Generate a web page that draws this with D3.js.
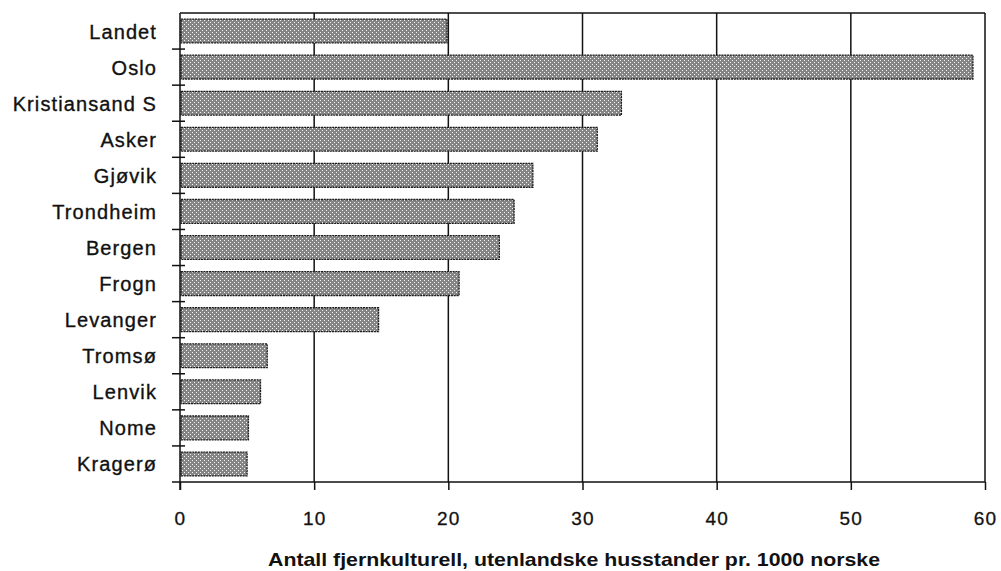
<!DOCTYPE html>
<html>
<head>
<meta charset="utf-8">
<script src="https://cdn.jsdelivr.net/npm/d3@7"></script>
<style>
  html, body { margin: 0; padding: 0; background: #ffffff; }
  svg { display: block; }
  text { font-family: "Liberation Sans", Arial, sans-serif; fill: #111; }
</style>
</head>
<body>
<svg id="chart" width="1001" height="571"></svg>
<script>
const categories = ["Landet", "Oslo", "Kristiansand S", "Asker", "Gjøvik", "Trondheim", "Bergen", "Frogn", "Levanger", "Tromsø", "Lenvik", "Nome", "Kragerø"];
const values = [19.9, 59.1, 32.9, 31.1, 26.3, 24.9, 23.8, 20.8, 14.8, 6.5, 6.0, 5.1, 5.0];
const xTicks = [0, 10, 20, 30, 40, 50, 60];
const xTitle = "Antall fjernkulturell, utenlandske husstander pr. 1000 norske";

const svg = d3.select("#chart");
const mLeft = 180, mRight = 985, mTop = 13, mBottom = 482;

const x = d3.scaleLinear().domain([0, 60]).range([mLeft, mRight]);
const y = d3.scaleBand().domain(categories).range([mTop, mBottom]).paddingInner(0.34).paddingOuter(0.17);

// pattern for bars
const defs = svg.append("defs");
const pat = defs.append("pattern").attr("id", "dots").attr("patternUnits", "userSpaceOnUse")
  .attr("width", 4).attr("height", 4);
pat.append("rect").attr("width", 4).attr("height", 4).attr("fill", "#858585");
pat.append("rect").attr("x", 0).attr("y", 0).attr("width", 1).attr("height", 1).attr("fill", "#f4f4f4");
pat.append("rect").attr("x", 2).attr("y", 2).attr("width", 1).attr("height", 1).attr("fill", "#f4f4f4");

// gridlines
svg.append("g").selectAll("line").data(xTicks.filter(d => d > 0)).join("line")
  .attr("x1", d => x(d)).attr("x2", d => x(d))
  .attr("y1", mTop).attr("y2", mBottom)
  .attr("stroke", "#111").attr("stroke-width", 1.5);

// top border
svg.append("line").attr("x1", x(0)).attr("x2", x(60)).attr("y1", mTop).attr("y2", mTop)
  .attr("stroke", "#111").attr("stroke-width", 1.5);

// bars
svg.append("g").selectAll("rect").data(categories).join("rect")
  .attr("x", x(0) + 1)
  .attr("y", d => y(d))
  .attr("width", (d, i) => x(values[i]) - x(0) - 1)
  .attr("height", y.bandwidth())
  .attr("fill", "url(#dots)")
  .attr("stroke", "#1a1a1a").attr("stroke-width", 1.3).attr("stroke-dasharray", "2,0.8");

// left axis line
svg.append("line").attr("x1", x(0)).attr("x2", x(0)).attr("y1", mTop).attr("y2", mBottom + 8)
  .attr("stroke", "#111").attr("stroke-width", 1.5);

// left ticks between bands
const step = y.step();
const boundaries = categories.slice(1).map(d => y(d) - step * y.paddingInner() / 2);
svg.append("g").selectAll("line").data(boundaries).join("line")
  .attr("x1", x(0) - 8).attr("x2", x(0) + 5)
  .attr("y1", d => d).attr("y2", d => d)
  .attr("stroke", "#111").attr("stroke-width", 1.5);

// category labels
svg.append("g").selectAll("text").data(categories).join("text")
  .attr("x", 157)
  .attr("y", d => y(d) + y.bandwidth() / 2 + 7.5)
  .attr("text-anchor", "end")
  .attr("font-size", 20)
  .attr("letter-spacing", 1.1)
  .attr("stroke", "#111").attr("stroke-width", 0.35)
  .text(d => d);

// bottom axis
const xAxis = d3.axisBottom(x).tickValues(xTicks).tickSize(8).tickPadding(22).tickFormat(d3.format("d"));
const gx = svg.append("g").attr("transform", `translate(0,${mBottom})`).call(xAxis);
gx.select(".domain").attr("d", `M${x(0) - 8},0H${x(60)}`).attr("stroke", "#111").attr("stroke-width", 1.7);
gx.selectAll(".tick line").attr("stroke", "#111").attr("stroke-width", 1.5);
gx.selectAll(".tick text").attr("font-family", "Liberation Sans, Arial, sans-serif")
  .attr("font-size", 19).attr("letter-spacing", 1.2).attr("fill", "#111")
  .attr("stroke", "#111").attr("stroke-width", 0.3);

// title
svg.append("text")
  .attr("x", 574).attr("y", 566)
  .attr("text-anchor", "middle")
  .attr("font-size", 18.5).attr("font-weight", "bold")
  .attr("textLength", 612).attr("lengthAdjust", "spacingAndGlyphs")
  .text(xTitle);
</script>
</body>
</html>
